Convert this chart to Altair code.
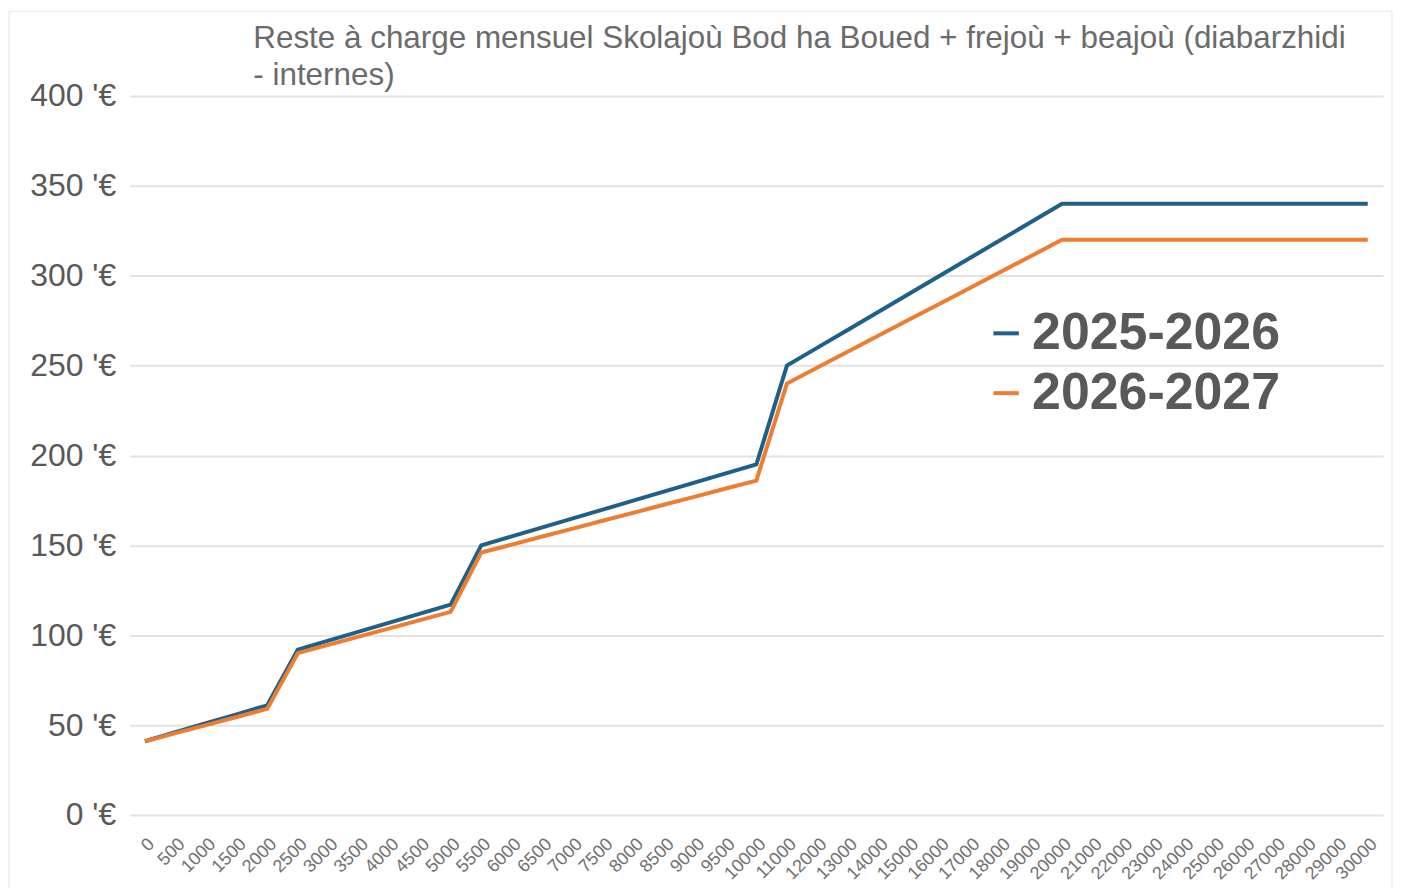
import altair as alt
import pandas as pd

# ---- data ----
revenus = ["0", "500", "1000", "1500", "2000", "2500", "3000", "3500", "4000", "4500",
           "5000", "5500", "6000", "6500", "7000", "7500", "8000", "8500", "9000", "9500",
           "10000", "11000", "12000", "13000", "14000", "15000", "16000", "17000", "18000",
           "19000", "20000", "21000", "22000", "23000", "24000", "25000", "26000", "27000",
           "28000", "29000", "30000"]

serie_2025_2026 = [41, 46, 51, 56, 61,
                   92, 97, 102, 107, 112, 117,
                   150, 155, 160, 165, 170, 175, 180, 185, 190, 195,
                   250, 260, 270, 280, 290, 300, 310, 320, 330, 340,
                   340, 340, 340, 340, 340, 340, 340, 340, 340, 340]

serie_2026_2027 = [41, 45.5, 50, 54.5, 59,
                   90, 94.6, 99.2, 103.8, 108.4, 113,
                   146, 150.4, 154.9, 159.3, 163.8, 168.2, 172.7, 177.1, 181.6, 186,
                   240, 248.9, 257.8, 266.7, 275.6, 284.4, 293.3, 302.2, 311.1, 320,
                   320, 320, 320, 320, 320, 320, 320, 320, 320, 320]

annees = ["2025-2026", "2026-2027"]
couleurs = ["#1f6088", "#ed7d31"]
y_ticks = [0, 50, 100, 150, 200, 250, 300, 350, 400]

titre = "Reste à charge mensuel Skolajoù Bod ha Boued + frejoù + beajoù (diabarzhidi\n- internes)"

rows = []
for r, a, b in zip(revenus, serie_2025_2026, serie_2026_2027):
    rows.append({"revenu": r, "annee": annees[0], "valeur": a})
    rows.append({"revenu": r, "annee": annees[1], "valeur": b})
df = pd.DataFrame(rows)

FONT = "Liberation Sans"
GRAY = "#595959"

lines = alt.Chart(df).mark_line(strokeWidth=4, strokeJoin="miter").encode(
    x=alt.X("revenu:N", sort=revenus,
            scale=alt.Scale(type="point", padding=0.5),
            axis=alt.Axis(title=None, labelAngle=-45, labelFontSize=18,
                          labelColor="#707070", labelFont=FONT, labelOverlap=False,
                          labelPadding=20, ticks=False, domain=False, grid=False)),
    y=alt.Y("valeur:Q",
            scale=alt.Scale(domain=[0, 400], nice=False),
            axis=alt.Axis(title=None, values=y_ticks,
                          labelExpr="datum.value + \" '€\"",
                          labelFontSize=32, labelColor=GRAY, labelFont=FONT,
                          labelPadding=14, ticks=False, domain=False,
                          grid=True, gridColor="#e3e3e3", gridWidth=2)),
    color=alt.Color("annee:N", scale=alt.Scale(domain=annees, range=couleurs),
                    legend=alt.Legend(title=None, orient="none", legendX=853, legendY=212,
                                      symbolType="stroke", symbolStrokeWidth=4,
                                      symbolSize=650, labelFontSize=52, labelLimit=500,
                                      labelFontWeight="bold", labelColor=GRAY,
                                      labelFont=FONT, rowPadding=8, labelOffset=0)),
    order=alt.Order("annee:N"),
)

frame_df = pd.DataFrame({"k": [1]})
frame = alt.Chart(frame_df).mark_rect(fill="transparent", stroke="#e6e6e6", strokeWidth=1).encode(
    x=alt.value(-121), x2=alt.value(1266), y=alt.value(-85), y2=alt.value(820)
)

title_df = pd.DataFrame({"t": [titre]})
title_mark = alt.Chart(title_df).mark_text(
    align="left", baseline="middle", fontSize=31.5, font=FONT, color="#6b6b6b",
    lineBreak="\n", lineHeight=37
).encode(x=alt.value(124), y=alt.value(-57), text="t:N")

chart = alt.layer(frame, lines, title_mark).properties(
    width=1257, height=721,
    padding={"left": 122, "top": 87, "right": 11, "bottom": 72},
    autosize=alt.AutoSizeParams(type="none"),
).configure_view(stroke=None)

chart.save("out.html", embed_options={"renderer": "svg", "actions": False})
